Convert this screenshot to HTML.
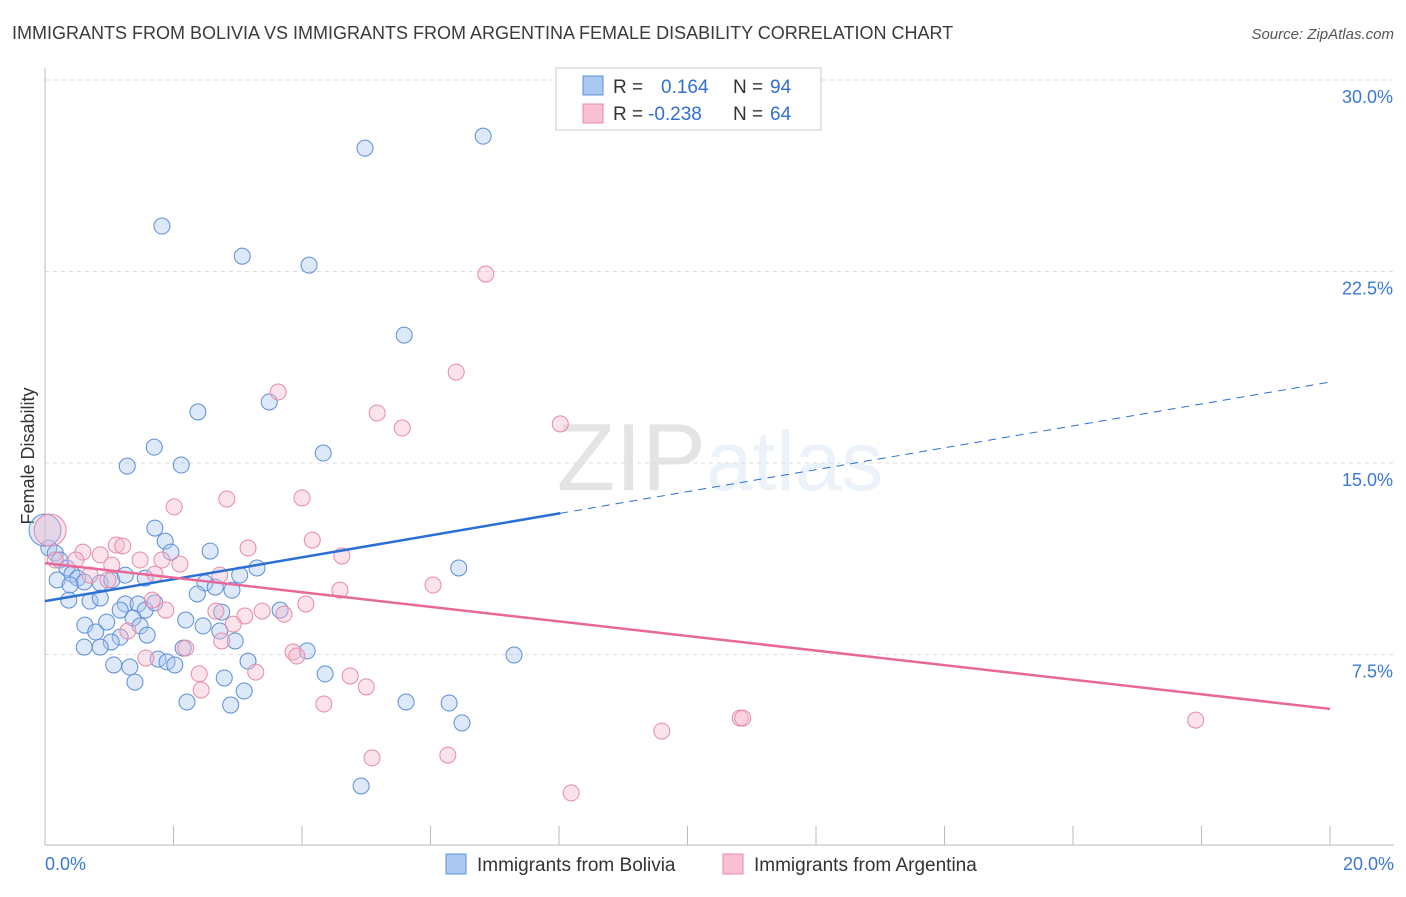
<!DOCTYPE html>
<html><head><meta charset="utf-8">
<style>
html,body{margin:0;padding:0;background:#fff;}
body{width:1406px;height:892px;overflow:hidden;font-family:"Liberation Sans",sans-serif;}
svg text{font-family:"Liberation Sans",sans-serif;}
</style></head>
<body>
<svg id="chart" width="1406" height="892" xmlns="http://www.w3.org/2000/svg">
<text x="12" y="39" font-size="18" fill="#3a3a3a">IMMIGRANTS FROM BOLIVIA VS IMMIGRANTS FROM ARGENTINA FEMALE DISABILITY CORRELATION CHART</text>
<text x="1394" y="39" font-size="15" fill="#555" text-anchor="end" font-style="italic">Source: ZipAtlas.com</text>
<text x="720" y="490" font-size="96" text-anchor="middle" fill="#000" opacity="0.1" font-family="Liberation Serif">ZIP<tspan fill="#4a86d8" opacity="1" font-family="Liberation Sans" font-size="84">atlas</tspan></text>
<text transform="translate(34,456) rotate(-90)" font-size="18" fill="#333" text-anchor="middle">Female Disability</text>
<g id="grid"></g>
<g id="axes"></g>
<g id="pts"></g>
<g id="trend"></g>
<g>
<rect x="556" y="68" width="265" height="62" fill="#fff" stroke="#ccc"/>
<rect x="583" y="76" width="20" height="19" fill="#aac8f2" stroke="#5b8fd9"/>
<rect x="583" y="104" width="20" height="19" fill="#f8c0d2" stroke="#e88aa8"/>
<text x="613" y="93" font-size="19" fill="#333">R = </text>
<text x="661" y="93" font-size="19" fill="#2f6fd6">0.164</text>
<text x="733" y="93" font-size="19" fill="#333">N = </text>
<text x="770" y="93" font-size="19" fill="#2f6fd6">94</text>
<text x="613" y="120" font-size="19" fill="#333">R = </text>
<text x="648" y="120" font-size="19" fill="#2f6fd6">-0.238</text>
<text x="733" y="120" font-size="19" fill="#333">N = </text>
<text x="770" y="120" font-size="19" fill="#2f6fd6">64</text>
</g>
<g>
<rect x="446" y="854" width="20" height="20" fill="#aac8f2" stroke="#5b8fd9"/>
<text x="477" y="871" font-size="19" fill="#333">Immigrants from Bolivia</text>
<rect x="723" y="854" width="20" height="20" fill="#f8c0d2" stroke="#e88aa8"/>
<text x="754" y="871" font-size="19" fill="#333">Immigrants from Argentina</text>
</g>
</svg>
<script>
const blueX=[6.82,4.98,1.82,3.07,4.11,5.59,2.38,3.49,1.70,1.28,2.12,4.33,1.71,1.87,1.96,2.57,6.44,3.30,3.03,0.06,0.16,0.23,0.34,0.42,0.51,0.61,0.19,0.39,0.86,1.04,1.25,1.56,2.49,2.65,2.91,2.37,0.37,0.70,0.86,1.25,1.45,1.56,1.71,1.17,1.37,2.19,2.75,3.66,2.46,2.72,0.96,0.62,0.79,1.48,1.59,1.17,1.03,0.61,0.86,2.96,4.08,2.15,1.76,1.90,2.02,3.16,1.07,1.32,4.36,2.79,1.40,3.10,2.21,2.89,5.62,6.29,6.49,7.30,4.92,0.0];
const blueY=[27.80,27.33,24.28,23.10,22.75,20.01,17.00,17.39,15.62,14.88,14.92,15.39,12.45,11.94,11.51,11.55,10.89,10.89,10.61,11.67,11.47,11.20,10.89,10.65,10.49,10.34,10.42,10.22,10.30,10.42,10.61,10.49,10.30,10.14,10.02,9.87,9.63,9.59,9.71,9.48,9.48,9.24,9.52,9.24,8.93,8.85,9.16,9.24,8.62,8.42,8.77,8.65,8.38,8.62,8.26,8.18,7.99,7.79,7.79,8.03,7.64,7.75,7.32,7.21,7.09,7.24,7.09,7.01,6.74,6.58,6.42,6.07,5.64,5.52,5.64,5.60,4.82,7.48,2.35,12.37];
const pinkX=[6.86,6.40,3.63,5.17,5.56,8.02,2.83,4.00,2.01,4.16,4.62,3.16,1.11,1.21,0.59,0.86,1.48,1.82,2.10,1.04,0.48,0.70,0.98,1.71,2.72,4.59,6.04,0.16,0.08,1.67,1.88,2.66,3.38,4.06,3.72,3.11,2.93,1.29,2.75,2.19,3.86,3.92,1.57,2.40,3.28,4.75,5.00,2.43,4.34,10.82,10.86,9.60,17.91,5.09,6.27,8.19];
const pinkY=[22.40,18.56,17.78,16.96,16.37,16.53,13.59,13.63,13.28,11.98,11.36,11.67,11.79,11.75,11.51,11.40,11.20,11.20,11.04,11.00,11.20,10.61,10.42,10.65,10.61,10.02,10.22,11.20,12.37,9.63,9.24,9.20,9.20,9.48,9.08,9.01,8.69,8.42,8.03,7.75,7.60,7.44,7.36,6.74,6.81,6.66,6.23,6.11,5.56,5.01,5.01,4.50,4.93,3.45,3.56,2.08];
const yTicks=[7.5,15.0,22.5,30.0];
const yTickLabels=["7.5%","15.0%","22.5%","30.0%"];
const xTicks=[0,2,4,6,8,10,12,14,16,18,20];
const blueTrend=[9.59,18.17]; // y at x=0, x=20
const blueSolidEnd=8.02;
const pinkTrend=[11.08,5.37];
const NS="http://www.w3.org/2000/svg";
const X0=45,X1=1330,Y0=846,YPX=191.5/7.5;
const sx=v=>X0+(v/20)*(X1-X0);
const sy=v=>Y0-v*YPX;
function mk(tag,attrs,parent){const e=document.createElementNS(NS,tag);for(const k in attrs)e.setAttribute(k,attrs[k]);parent.appendChild(e);return e;}
const grid=document.getElementById('grid'),axes=document.getElementById('axes'),pts=document.getElementById('pts'),trend=document.getElementById('trend');
yTicks.forEach((t,i)=>{
 const l=mk('line',{x1:45,x2:1394,y1:sy(t),y2:sy(t),stroke:'#ddd','stroke-dasharray':'4,4'},grid);
 
 
 const tx=mk('text',{x:1393,y:sy(t)+23,'font-size':18,fill:'#3a78d8','text-anchor':'end'},axes);
 tx.textContent=yTickLabels[i];
 
 
});
const ax=mk('line',{x1:45,x2:1394,y1:845,y2:845,stroke:'#bbb'},axes);


const ay=mk('line',{x1:45,x2:45,y1:68,y2:845,stroke:'#bbb'},axes);


xTicks.forEach(t=>{
 const l=mk('line',{x1:sx(t),x2:sx(t),y1:826,y2:845,stroke:'#bbb'},axes);
 
 
});
const xl=mk('text',{x:45,y:870,'font-size':18,fill:'#3a78d8'},axes);xl.textContent='0.0%';


const xr=mk('text',{x:1394,y:870,'font-size':18,fill:'#3a78d8','text-anchor':'end'},axes);xr.textContent='20.0%';


function drawPts(xs,ys,fill,stroke,name){
 xs.forEach((x,i)=>{
  const big=(x===0||x===0.08)&&ys[i]>12;
  const c=mk('circle',{cx:sx(x),cy:sy(ys[i]),r:big?16:8,fill:fill,'fill-opacity':0.4,stroke:stroke,'stroke-width':1},pts);
  
  
 });
}
drawPts(blueX,blueY,'#a9c6f0','#5b8fd9','point-bolivia');
drawPts(pinkX,pinkY,'#f6b8cc','#e88aa8','point-argentina');
const by=x=>blueTrend[0]+(blueTrend[1]-blueTrend[0])*x/20;
const t1=mk('line',{x1:sx(0),y1:sy(by(0)),x2:sx(blueSolidEnd),y2:sy(by(blueSolidEnd)),stroke:'#2a6fd6','stroke-width':2.5},trend);


const t2=mk('line',{x1:sx(blueSolidEnd),y1:sy(by(blueSolidEnd)),x2:sx(20),y2:sy(by(20)),stroke:'#2a6fd6','stroke-width':1,'stroke-dasharray':'8,6'},trend);


const t3=mk('line',{x1:sx(0),y1:sy(pinkTrend[0]),x2:sx(20),y2:sy(pinkTrend[1]),stroke:'#e8689a','stroke-width':2.5},trend);


</script>
</body></html>
